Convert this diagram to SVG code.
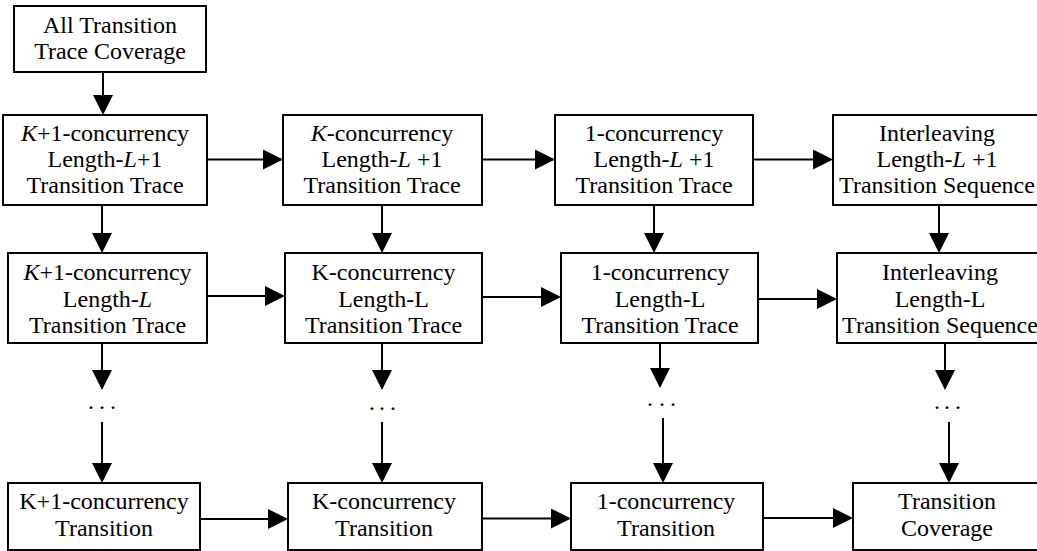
<svg xmlns="http://www.w3.org/2000/svg" width="1037" height="551" viewBox="0 0 1037 551">
  <defs>
    <style>
      .box { fill: #ffffff; stroke: #000000; stroke-width: 2; }
      .lbl { font-size: 24px; fill: #000000; text-anchor: middle; }
      .dots { font-size: 24px; fill: #000000; }
      .it { font-style: italic; }
      .edge { stroke: #000000; stroke-width: 2; fill: none; marker-end: url(#arrow); }
    </style>
    <marker id="arrow" markerUnits="userSpaceOnUse" markerWidth="20" markerHeight="20" refX="18" refY="10" orient="auto">
      <path d="M0,0 L20,10 L0,20 Z" fill="#000000"/>
    </marker>
  </defs>

  <rect width="1037" height="551" fill="#ffffff"/>

  <!-- connectors -->
  <g id="connectors">
    <line class="edge" x1="103" y1="72" x2="103" y2="113"/>
    <!-- row 1 to row 2 -->
    <line class="edge" x1="102" y1="205" x2="102" y2="251"/>
    <line class="edge" x1="382" y1="205" x2="382" y2="251"/>
    <line class="edge" x1="654" y1="205" x2="654" y2="251"/>
    <line class="edge" x1="939" y1="205" x2="939" y2="251"/>
    <!-- row 1 horizontals -->
    <line class="edge" x1="207" y1="159.5" x2="281" y2="159.5"/>
    <line class="edge" x1="482" y1="159.5" x2="553" y2="159.5"/>
    <line class="edge" x1="753" y1="159.5" x2="831" y2="159.5"/>
    <!-- row 2 horizontals -->
    <line class="edge" x1="207" y1="296" x2="283" y2="296"/>
    <line class="edge" x1="482" y1="297" x2="559" y2="297"/>
    <line class="edge" x1="758" y1="299" x2="835" y2="299"/>
    <!-- row 2 down to ellipsis -->
    <line class="edge" x1="102" y1="343" x2="102" y2="388"/>
    <line class="edge" x1="382" y1="343" x2="382" y2="388"/>
    <line class="edge" x1="660" y1="343" x2="660" y2="386"/>
    <line class="edge" x1="945" y1="343" x2="945" y2="388"/>
    <!-- ellipsis down to bottom row -->
    <line class="edge" x1="102" y1="422" x2="102" y2="481"/>
    <line class="edge" x1="382" y1="422" x2="382" y2="481"/>
    <line class="edge" x1="663" y1="418" x2="663" y2="481"/>
    <line class="edge" x1="949" y1="422" x2="949" y2="481"/>
    <!-- bottom row horizontals -->
    <line class="edge" x1="200" y1="519" x2="286" y2="519"/>
    <line class="edge" x1="482" y1="518.5" x2="569" y2="518.5"/>
    <line class="edge" x1="763" y1="518" x2="851" y2="518"/>
  </g>

  <g font-family="'Liberation Serif', 'DejaVu Serif', serif">
  <!-- ellipsis marks -->
  <g id="ellipses">
    <text class="dots" x="88 99 110" y="409">...</text>
    <text class="dots" x="369 379 390" y="410">...</text>
    <text class="dots" x="647 659 670" y="406">...</text>
    <text class="dots" x="934 944 955" y="409">...</text>
  </g>

  <g id="n-all-trace">
    <rect class="box" x="14" y="6" width="192" height="66"/>
    <text class="lbl" x="110" y="33">All Transition</text>
    <text class="lbl" x="110" y="59">Trace Coverage</text>
  </g>

  <!-- row 1: length L+1 -->
  <g id="n-k1-l1">
    <rect class="box" x="3" y="115" width="204" height="90"/>
    <text class="lbl" x="105" y="141"><tspan class="it">K</tspan>+1-concurrency</text>
    <text class="lbl" x="105" y="167">Length-<tspan class="it">L</tspan>+1</text>
    <text class="lbl" x="105" y="193">Transition Trace</text>
  </g>
  <g id="n-k-l1">
    <rect class="box" x="283" y="115" width="199" height="90"/>
    <text class="lbl" x="382" y="141"><tspan class="it">K</tspan>-concurrency</text>
    <text class="lbl" x="382" y="167">Length-<tspan class="it">L</tspan> +1</text>
    <text class="lbl" x="382" y="193">Transition Trace</text>
  </g>
  <g id="n-1-l1">
    <rect class="box" x="555" y="115" width="198" height="90"/>
    <text class="lbl" x="654" y="141">1-concurrency</text>
    <text class="lbl" x="654" y="167">Length-<tspan class="it">L</tspan> +1</text>
    <text class="lbl" x="654" y="193">Transition Trace</text>
  </g>
  <g id="n-il-l1">
    <rect class="box" x="833" y="115" width="208" height="90"/>
    <text class="lbl" x="937" y="141">Interleaving</text>
    <text class="lbl" x="937" y="167">Length-<tspan class="it">L</tspan> +1</text>
    <text class="lbl" x="937" y="193">Transition Sequence</text>
  </g>

  <!-- row 2: length L -->
  <g id="n-k1-l">
    <rect class="box" x="8" y="253" width="199" height="90"/>
    <text class="lbl" x="107.5" y="280"><tspan class="it">K</tspan>+1-concurrency</text>
    <text class="lbl" x="107.5" y="307">Length-<tspan class="it">L</tspan></text>
    <text class="lbl" x="107.5" y="333">Transition Trace</text>
  </g>
  <g id="n-k-l">
    <rect class="box" x="285" y="253" width="197" height="90"/>
    <text class="lbl" x="383.5" y="280">K-concurrency</text>
    <text class="lbl" x="383.5" y="307">Length-L</text>
    <text class="lbl" x="383.5" y="333">Transition Trace</text>
  </g>
  <g id="n-1-l">
    <rect class="box" x="561" y="253" width="197" height="90"/>
    <text class="lbl" x="660" y="280">1-concurrency</text>
    <text class="lbl" x="660" y="307">Length-L</text>
    <text class="lbl" x="660" y="333">Transition Trace</text>
  </g>
  <g id="n-il-l">
    <rect class="box" x="837" y="253" width="206" height="90"/>
    <text class="lbl" x="940" y="280">Interleaving</text>
    <text class="lbl" x="940" y="307">Length-L</text>
    <text class="lbl" x="940" y="333">Transition Sequence</text>
  </g>

  <!-- bottom row: single transitions -->
  <g id="n-k1-t">
    <rect class="box" x="8" y="483" width="192" height="67"/>
    <text class="lbl" x="104" y="509">K+1-concurrency</text>
    <text class="lbl" x="104" y="535.5">Transition</text>
  </g>
  <g id="n-k-t">
    <rect class="box" x="288" y="483" width="194" height="67"/>
    <text class="lbl" x="384" y="509">K-concurrency</text>
    <text class="lbl" x="384" y="535.5">Transition</text>
  </g>
  <g id="n-1-t">
    <rect class="box" x="571" y="483" width="192" height="67"/>
    <text class="lbl" x="666" y="509">1-concurrency</text>
    <text class="lbl" x="666" y="535.5">Transition</text>
  </g>
  <g id="n-cov">
    <rect class="box" x="853" y="483" width="190" height="67"/>
    <text class="lbl" x="947" y="509">Transition</text>
    <text class="lbl" x="947" y="535.5">Coverage</text>
  </g>
  </g>
</svg>
